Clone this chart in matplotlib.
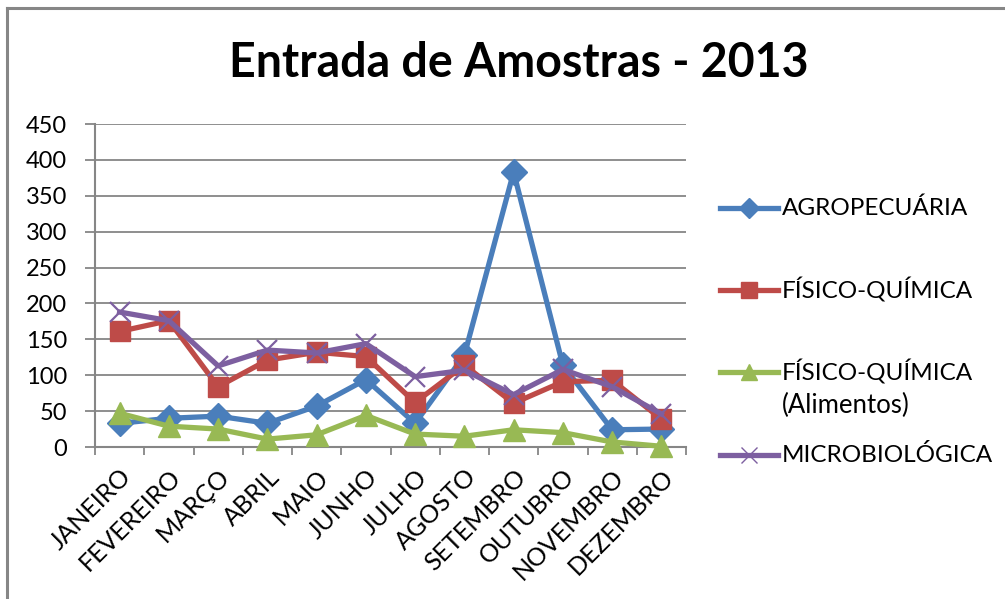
import matplotlib
matplotlib.use("Agg")
import matplotlib.pyplot as plt
from matplotlib.lines import Line2D
import numpy as np

plt.rcParams['font.family'] = ['Lato', 'DejaVu Sans']

months = ["JANEIRO", "FEVEREIRO", "MARÇO", "ABRIL", "MAIO", "JUNHO",
          "JULHO", "AGOSTO", "SETEMBRO", "OUTUBRO", "NOVEMBRO", "DEZEMBRO"]
agropecuaria = [33, 40, 43, 33, 57, 94, 33, 128, 383, 114, 24, 25]
fisico_quimica = [161, 176, 84, 121, 132, 126, 62, 114, 61, 91, 93, 39]
fisico_quimica_alim = [47, 29, 25, 11, 17, 44, 18, 15, 24, 20, 7, 1]
microbiologica = [188, 176, 113, 135, 131, 144, 98, 107, 73, 108, 84, 46]
y_ticks = [0, 50, 100, 150, 200, 250, 300, 350, 400, 450]
title = "Entrada de Amostras - 2013"

series = [
    ("AGROPECUÁRIA", agropecuaria, "#4A7EBB", "D", 13),
    ("FÍSICO-QUÍMICA", fisico_quimica, "#BE4B48", "s", 15),
    ("FÍSICO-QUÍMICA\n(Alimentos)", fisico_quimica_alim, "#98B954", "^", 16),
    ("MICROBIOLÓGICA", microbiologica, "#7D5FA0", "x", 15),
]

W, H = 1005, 599
fig = plt.figure(figsize=(W / 100, H / 100), dpi=100)
fig.patch.set_facecolor("white")

# outer frame (left and top)
fig.add_artist(Line2D([7 / W, 7 / W], [0, 1 - 8 / H], color="#868686", lw=2.2,
                      transform=fig.transFigure))
fig.add_artist(Line2D([7 / W, 1], [1 - 8 / H, 1 - 8 / H], color="#868686", lw=2.2,
                      transform=fig.transFigure))

ax = fig.add_axes([95 / W, 1 - 447 / H, (686 - 95) / W, (447 - 124) / H])
x = np.arange(len(months))
for name, vals, col, mk, ms in series:
    kw = dict(markeredgewidth=1.6) if mk == "x" else dict(markeredgecolor=col)
    ax.plot(x, vals, color=col, lw=3.8, marker=mk, markersize=ms,
            markerfacecolor=col, solid_joinstyle="round", clip_on=False, zorder=3, **kw)

ax.set_xlim(-0.5, len(months) - 0.5)
ax.set_ylim(0, 450)
ax.set_yticks(y_ticks)
ax.set_yticklabels([str(v) for v in y_ticks], fontsize=17)
ax.set_xticks(x)
ax.set_xticklabels(months, rotation=45, ha="right", va="top",
                   rotation_mode="anchor", fontsize=18)
ax.set_xticks(np.arange(-0.5, len(months), 1), minor=True)
ax.tick_params(axis="x", which="major", length=0, pad=13)
ax.tick_params(axis="x", which="minor", length=6, width=1.3, color="#868686", direction="out")
ax.tick_params(axis="y", length=7, width=1.3, color="#868686", direction="out", pad=13)
ax.grid(axis="y", color="#868686", lw=1.3, zorder=0)
for s in ["top", "right"]:
    ax.spines[s].set_visible(False)
for s in ["left", "bottom"]:
    ax.spines[s].set_color("#868686")
    ax.spines[s].set_linewidth(1.5)

fig.text(519 / W, 1 - 63 / H, title, ha="center", va="center",
         fontsize=33.5, fontweight="bold")

# legend
leg_y = [208, 290, 372, 455]
for (name, vals, col, mk, ms), yy in zip(series, leg_y):
    yf = 1 - yy / H
    fig.add_artist(Line2D([720 / W, 778 / W], [yf, yf], color=col, lw=3.8,
                          transform=fig.transFigure))
    kw = dict(markeredgewidth=1.0) if mk == "x" else dict(markeredgecolor=col)
    fig.add_artist(Line2D([749 / W], [yf], color=col, marker=mk,
                          markersize=ms * 0.75, markerfacecolor=col,
                          transform=fig.transFigure, **kw))
    lines = name.split("\n")
    for i, ln in enumerate(lines):
        fig.text(782 / W, 1 - (yy + i * 33) / H, ln, ha="left", va="center",
                 fontsize=17.5 if i == 0 else 18.5)

fig.savefig("out.png", dpi=100)
